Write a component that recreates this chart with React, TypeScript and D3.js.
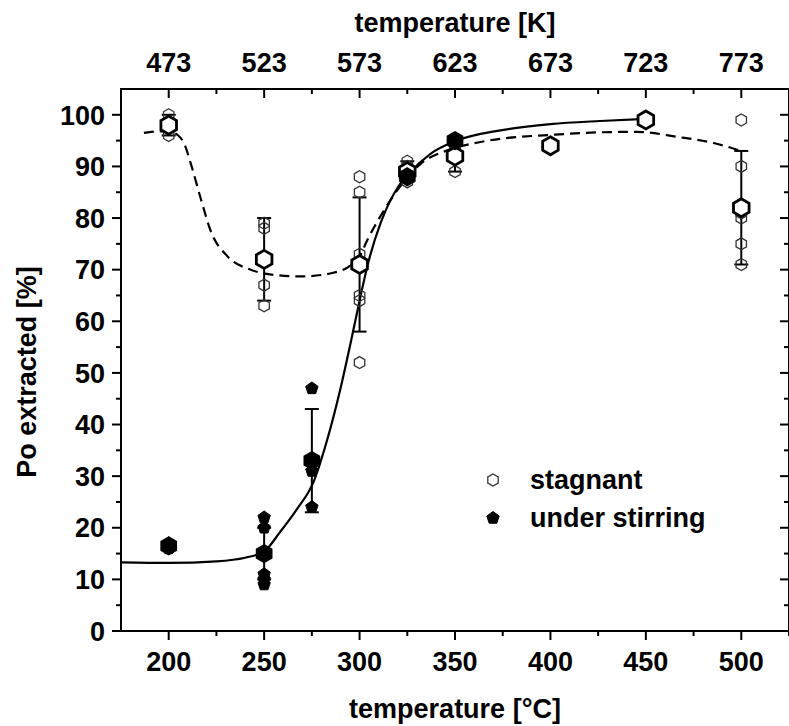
import React from "react";
import * as d3 from "d3";

// ---- data ----
const stagTemps = [200, 250, 300, 325, 350, 400, 450, 500];
const stagMean = [98, 72, 71, 89, 92, 94, 99, 82];
const stagErr = [2, 8, 13, 2, 3, 0, 0, 11];
const stagPoints = [
  [100, 96, 98],
  [79, 78, 67, 63],
  [88, 85, 73, 65, 64, 52],
  [91, 90, 87],
  [95, 94, 89],
  [94],
  [99],
  [99, 90, 81, 80, 75, 71],
];

const stirTemps = [200, 250, 275, 325, 350];
const stirMean = [16.5, 15, 33, 88, 95];
const stirErr = [0, 5, 10, 0, 0];
const stirPoints = [
  [16, 17],
  [22, 20, 15, 11, 10, 9],
  [47, 33, 31, 24],
  [88],
  [95],
];

// fitted curves
const solidT = [175, 200, 225, 240, 250, 258, 267, 276, 283, 290, 296, 300, 305, 311, 321, 326, 337, 351, 374, 400, 426, 450];
const solidV = [13.3, 13.2, 13.5, 14.2, 15.4, 19, 23.5, 29, 37, 47, 57, 64, 72, 79, 86.5, 88.7, 92.4, 95, 97.0, 98.2, 98.8, 99.2];

const dashT = [187, 195, 200, 205, 208, 212, 217, 222, 231, 243, 255, 270, 285, 294, 300, 304, 312, 320, 332, 345, 360, 375, 400, 425, 445, 467, 486, 500];
const dashV = [96.5, 96.8, 96.8, 96, 94.5, 90, 83.5, 77.5, 72.5, 70, 69, 68.7, 69.3, 70.5, 72.5, 75.7, 81, 85.5, 90.5, 93, 94.5, 95.4, 96.1, 96.6, 96.7, 95.7, 94.5, 93];

const xTicks = [200, 250, 300, 350, 400, 450, 500];
const xMinor = [225, 275, 325, 375, 425, 475, 525];
const yTicks = [0, 10, 20, 30, 40, 50, 60, 70, 80, 90, 100];
const yMinor = [5, 15, 25, 35, 45, 55, 65, 75, 85, 95];
const kelvinOffset = 273;

const W = 789;
const H = 726;
const FONT = "'Liberation Sans', Arial, Helvetica, sans-serif";

function polyPath(cx: number, cy: number, r: number, n: number) {
  const pts: string[] = [];
  for (let k = 0; k < n; k++) {
    const a = -Math.PI / 2 + (2 * Math.PI * k) / n;
    pts.push(`${(cx + r * Math.cos(a)).toFixed(2)},${(cy + r * Math.sin(a)).toFixed(2)}`);
  }
  return "M" + pts.join("L") + "Z";
}

export default function App() {
  const x = d3.scaleLinear().domain([175, 525]).range([121, 789]);
  const y = d3.scaleLinear().domain([0, 105]).range([631, 89]);
  const left = x.range()[0];
  const right = x.range()[1];
  const top = y.range()[1];
  const bottom = y.range()[0];

  const line = d3
    .line<[number, number]>()
    .x((d) => x(d[0]))
    .y((d) => y(d[1]))
    .curve(d3.curveMonotoneX);

  const solidPath = line(solidT.map((t, i) => [t, solidV[i]]) as [number, number][]) || "";
  const dashPath = line(dashT.map((t, i) => [t, dashV[i]]) as [number, number][]) || "";

  const cap = 7;
  const tickFs = 27;
  const titleFs = 27;

  return (
    <svg width={W} height={H} style={{ position: "absolute", left: 0, top: 0, background: "#fff" }}>
      <rect x={0} y={0} width={W} height={H} fill="#fff" />
      {/* curves */}
      <path d={dashPath} fill="none" stroke="#000" strokeWidth={2.2} strokeDasharray="10,6" />
      <path d={solidPath} fill="none" stroke="#000" strokeWidth={2.2} />

      {/* error bars stagnant */}
      {stagTemps.map((t, i) =>
        stagErr[i] > 0 ? (
          <g key={"se" + i} stroke="#000" strokeWidth={2}>
            <line x1={x(t)} x2={x(t)} y1={y(stagMean[i] - stagErr[i])} y2={y(stagMean[i] + stagErr[i])} />
            <line x1={x(t) - cap} x2={x(t) + cap} y1={y(stagMean[i] - stagErr[i])} y2={y(stagMean[i] - stagErr[i])} />
            <line x1={x(t) - cap} x2={x(t) + cap} y1={y(stagMean[i] + stagErr[i])} y2={y(stagMean[i] + stagErr[i])} />
          </g>
        ) : null
      )}
      {/* error bars stirring */}
      {stirTemps.map((t, i) =>
        stirErr[i] > 0 ? (
          <g key={"re" + i} stroke="#000" strokeWidth={2}>
            <line x1={x(t)} x2={x(t)} y1={y(stirMean[i] - stirErr[i])} y2={y(stirMean[i] + stirErr[i])} />
            <line x1={x(t) - cap} x2={x(t) + cap} y1={y(stirMean[i] - stirErr[i])} y2={y(stirMean[i] - stirErr[i])} />
            <line x1={x(t) - cap} x2={x(t) + cap} y1={y(stirMean[i] + stirErr[i])} y2={y(stirMean[i] + stirErr[i])} />
          </g>
        ) : null
      )}

      {/* individual stagnant points */}
      {stagTemps.map((t, i) =>
        stagPoints[i].map((v, j) => (
          <path key={`sp${i}-${j}`} d={polyPath(x(t), y(v), 6, 6)} fill="none" stroke="#333" strokeWidth={1.3} />
        ))
      )}
      {/* individual stirring points */}
      {stirTemps.map((t, i) =>
        stirPoints[i].map((v, j) => (
          <path key={`rp${i}-${j}`} d={polyPath(x(t), y(v), 6.5, 5)} fill="#000" stroke="#000" strokeWidth={1} />
        ))
      )}
      {/* stagnant means */}
      {stagTemps.map((t, i) => (
        <path key={"sm" + i} d={polyPath(x(t), y(stagMean[i]), 9, 6)} fill="#fff" stroke="#000" strokeWidth={2.8} />
      ))}
      {/* stirring means */}
      {stirTemps.map((t, i) => (
        <path key={"rm" + i} d={polyPath(x(t), y(stirMean[i]), 8.5, 6)} fill="#000" stroke="#000" strokeWidth={2} />
      ))}

      {/* frame */}
      <rect x={left} y={top} width={right - left} height={bottom - top} fill="none" stroke="#000" strokeWidth={2} />

      {/* bottom axis ticks */}
      {xTicks.map((t) => (
        <g key={"bx" + t}>
          <line x1={x(t)} x2={x(t)} y1={bottom} y2={bottom + 9} stroke="#000" strokeWidth={2} />
          <text x={x(t)} y={bottom + 40} textAnchor="middle" fontFamily={FONT} fontWeight="bold" fontSize={tickFs} fill="#000">
            {t}
          </text>
          <line x1={x(t)} x2={x(t)} y1={top} y2={top + 9} stroke="#000" strokeWidth={2} />
          <text x={x(t)} y={top - 17} textAnchor="middle" fontFamily={FONT} fontWeight="bold" fontSize={tickFs} fill="#000">
            {t + kelvinOffset}
          </text>
        </g>
      ))}
      {xMinor.map((t) => (
        <g key={"mx" + t}>
          <line x1={x(t)} x2={x(t)} y1={bottom} y2={bottom + 5} stroke="#000" strokeWidth={2} />
          <line x1={x(t)} x2={x(t)} y1={top} y2={top + 5} stroke="#000" strokeWidth={2} />
        </g>
      ))}
      {/* left / right axis ticks */}
      {yTicks.map((v) => (
        <g key={"yt" + v}>
          <line x1={left - 9} x2={left} y1={y(v)} y2={y(v)} stroke="#000" strokeWidth={2} />
          <line x1={right - 9} x2={right} y1={y(v)} y2={y(v)} stroke="#000" strokeWidth={2} />
          <text x={left - 16} y={y(v)} dy="0.36em" textAnchor="end" fontFamily={FONT} fontWeight="bold" fontSize={tickFs} fill="#000">
            {v}
          </text>
        </g>
      ))}
      {yMinor.map((v) => (
        <g key={"ym" + v}>
          <line x1={left - 5} x2={left} y1={y(v)} y2={y(v)} stroke="#000" strokeWidth={2} />
          <line x1={right - 5} x2={right} y1={y(v)} y2={y(v)} stroke="#000" strokeWidth={2} />
        </g>
      ))}

      {/* titles */}
      <text x={455} y={32} textAnchor="middle" fontFamily={FONT} fontWeight="bold" fontSize={titleFs} fill="#000">
        temperature [K]
      </text>
      <text x={455} y={718} textAnchor="middle" fontFamily={FONT} fontWeight="bold" fontSize={titleFs} fill="#000">
        temperature [°C]
      </text>
      <text
        transform={`translate(36,372) rotate(-90)`}
        textAnchor="middle"
        fontFamily={FONT}
        fontWeight="bold"
        fontSize={titleFs}
        fill="#000"
      >
        Po extracted [%]
      </text>

      {/* legend */}
      <path d={polyPath(493, 480, 6, 6)} fill="none" stroke="#333" strokeWidth={1.3} />
      <text x={530} y={489} fontFamily={FONT} fontWeight="bold" fontSize={titleFs} fill="#000">
        stagnant
      </text>
      <path d={polyPath(493, 518, 6.5, 5)} fill="#000" stroke="#000" strokeWidth={1} />
      <text x={530} y={527} fontFamily={FONT} fontWeight="bold" fontSize={titleFs} fill="#000">
        under stirring
      </text>
    </svg>
  );
}
